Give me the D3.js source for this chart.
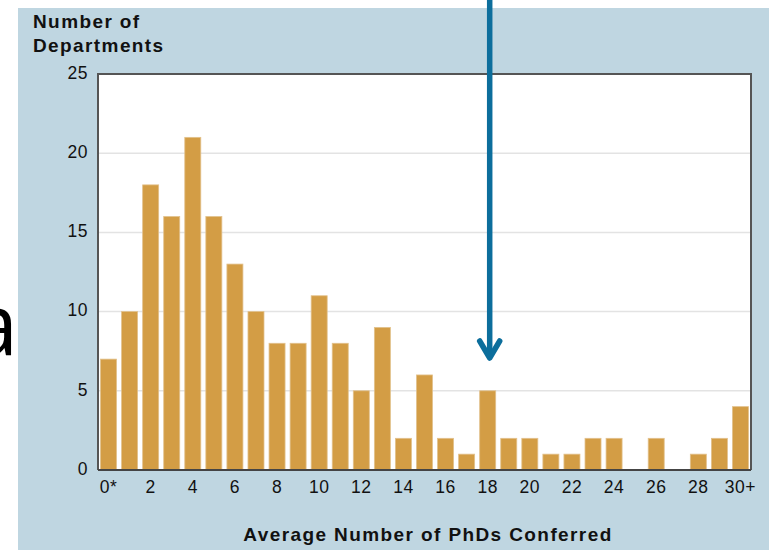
<!DOCTYPE html>
<html><head><meta charset="utf-8">
<script src="https://cdn.jsdelivr.net/npm/d3@7"></script>
<style>body{margin:0;background:#fff}svg{display:block}</style>
</head><body>
<script>
const categories = ["0*","1","2","3","4","5","6","7","8","9","10","11","12","13","14","15","16","17","18","19","20","21","22","23","24","25","26","27","28","29","30+"];
const departments = [7,10,18,16,21,16,13,10,8,8,11,8,5,9,2,6,2,1,5,2,2,1,1,2,2,0,2,0,1,2,4];
const xTickLabels = ["0*","2","4","6","8","10","12","14","16","18","20","22","24","26","28","30+"];
const yTicks = [0,5,10,15,20,25];
const arrowCategory = "18";

const W=774,H=550;
const svg=d3.select("body").append("svg").attr("width",W).attr("height",H);
const font="'Liberation Sans', Arial, Helvetica, sans-serif";

// panel
svg.append("rect").attr("x",18).attr("y",8).attr("width",751).attr("height",542).attr("fill","#bfd6e1");

const m={l:98,t:74,r:751,b:470};
const x=d3.scaleBand().domain(categories).range([m.l,m.r]).paddingInner(0.24).paddingOuter(0.12);
const y=d3.scaleLinear().domain([0,25]).range([m.b,m.t]);

// plot background
svg.append("rect").attr("x",m.l).attr("y",m.t).attr("width",m.r-m.l).attr("height",m.b-m.t).attr("fill","#fff");

// gridlines
svg.append("g").selectAll("line").data(yTicks.filter(d=>d>0&&d<25)).join("line")
  .attr("x1",m.l).attr("x2",m.r).attr("y1",d=>y(d)).attr("y2",d=>y(d))
  .attr("stroke","#e3e3e3").attr("stroke-width",1.5);

// bars
svg.append("g").selectAll("rect").data(categories).join("rect")
  .attr("x",d=>x(d)).attr("width",x.bandwidth())
  .attr("y",(d,i)=>y(departments[i])).attr("height",(d,i)=>y(0)-y(departments[i]))
  .attr("fill","#d39d45").attr("stroke","#e2c18c").attr("stroke-width",0.8);

// frame
svg.append("path").attr("d",`M${m.l},${m.b}V${m.t}H${m.r}V${m.b}`).attr("fill","none")
  .attr("stroke","#555").attr("stroke-width",2);
svg.append("line").attr("x1",m.l).attr("x2",m.r).attr("y1",m.b).attr("y2",m.b)
  .attr("stroke","#444").attr("stroke-width",2);

// y axis
const yAxis=d3.axisLeft(y).tickValues(yTicks).tickSize(0).tickPadding(10);
const gy=svg.append("g").attr("transform",`translate(${m.l},0)`).call(yAxis);
gy.select(".domain").remove();
gy.attr("font-family",font).attr("font-size",17.5);
gy.selectAll("text").attr("fill","#111").attr("letter-spacing",0.5).attr("dy","0.25em");

// x axis
const xAxis=d3.axisBottom(x).tickValues(xTickLabels).tickSize(0).tickPadding(11);
const gx=svg.append("g").attr("transform",`translate(0,${m.b})`).call(xAxis);
gx.select(".domain").remove();
gx.attr("font-family",font).attr("font-size",17.5);
gx.selectAll("text").attr("fill","#111").attr("letter-spacing",0.5);

// titles
const tstyle=s=>s.attr("font-family",font).attr("font-weight","bold").attr("font-size",19).attr("letter-spacing",1.4).attr("fill","#111");
svg.append("text").attr("x",33).attr("y",28).call(tstyle).text("Number of");
svg.append("text").attr("x",33).attr("y",52).call(tstyle).text("Departments");
svg.append("text").attr("x",428).attr("y",541).attr("text-anchor","middle").call(tstyle).text("Average Number of PhDs Conferred");

// large "a" fragment
svg.append("text").attr("x",18).attr("y",355).attr("text-anchor","end").attr("font-family","'Open Sans', 'Noto Sans', sans-serif").attr("font-size",86).attr("fill","#000").text("a");

// arrow
const ax=x(arrowCategory)+x.bandwidth()/2+2;
const tipY=361;
svg.append("line").attr("x1",ax).attr("x2",ax).attr("y1",0).attr("y2",tipY-3)
  .attr("stroke","#0c6e9c").attr("stroke-width",5.5);
svg.append("path").attr("d",`M${ax-10},${tipY-20}L${ax},${tipY-3}L${ax+10},${tipY-20}`)
  .attr("fill","none").attr("stroke","#0c6e9c").attr("stroke-width",5.5).attr("stroke-linecap","round").attr("stroke-linejoin","round");
</script>
</body></html>
